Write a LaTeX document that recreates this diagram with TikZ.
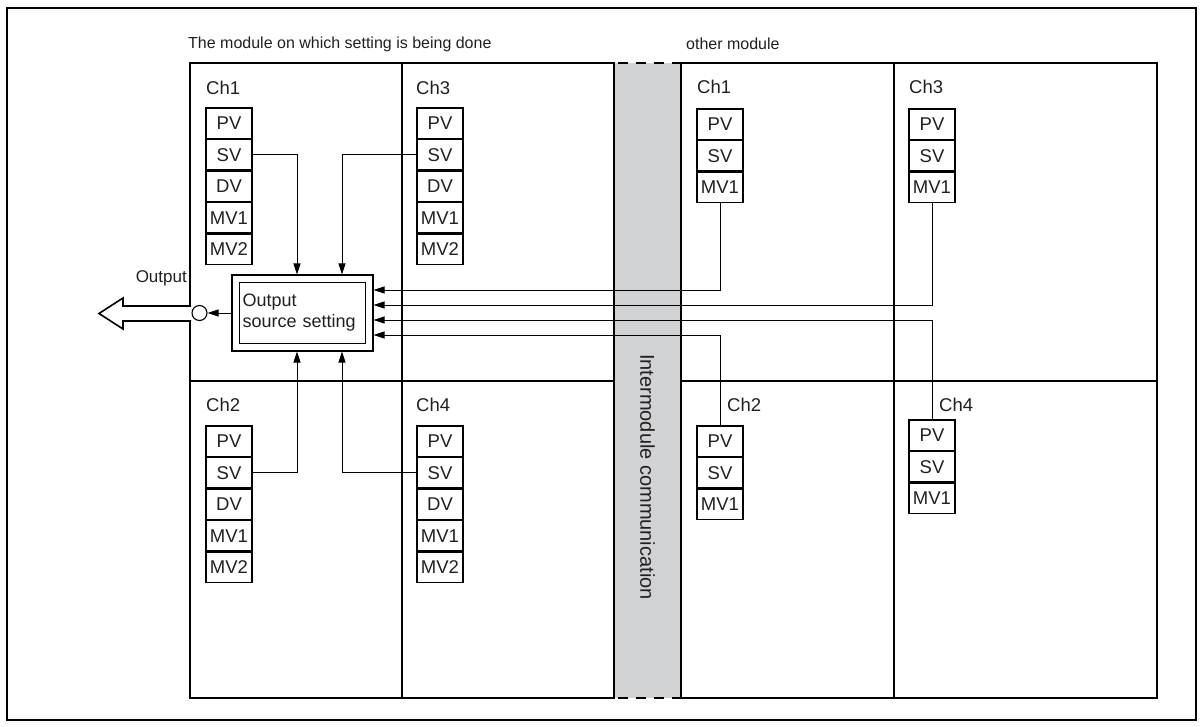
\documentclass[tikz,border=0pt]{standalone}
\usepackage{fontspec}
\setmainfont{Liberation Sans}
\usetikzlibrary{arrows.meta, positioning}
\definecolor{stripgray}{RGB}{209,210,212}
\definecolor{ink}{RGB}{35,31,32}

\begin{document}
\begin{tikzpicture}[
    x=1pt, y=-1pt,
    node distance=0pt,
    every node/.style={text=ink},
    cell/.style={rectangle, draw, line width=1.1pt, minimum width=46pt, minimum height=30.4pt, inner sep=0pt, font=\fontsize{18.5}{20}\selectfont},
    lbl/.style={anchor=west, inner sep=0pt, font=\fontsize{18.5}{20}\selectfont},
    ttl/.style={anchor=west, inner sep=0pt, font=\fontsize{16}{18}\selectfont},
    arrow/.style={-{Triangle[length=11pt, width=7pt]}, line width=0.8pt},
    frame/.style={line width=1.6pt},
    divider/.style={line width=1.1pt}
]
\useasboundingbox (0,0) rectangle (1203,727);

% Frames
\draw[line width=1.4pt] (7,8) rectangle (1196,720);
\fill[stripgray] (614,63) rectangle (681,698);
\draw[line width=1.2pt, dash pattern=on 10pt off 8pt, dash phase=-4pt] (614,63) -- (681,63) (614,698) -- (681,698);
\draw[frame] (190,63) rectangle (614,698);
\draw[frame] (681,63) rectangle (1157,698);
\draw[divider] (402,63) -- (402,698) (190,381) -- (614,381);
\draw[divider] (894,63) -- (894,698) (681,381) -- (1157,381);

% Titles
\node[ttl] (ttl) at (188,44) {The module on which setting is being done};
\node[ttl] (otl) at (686,44) {other module};
\node[rotate=-90, font=\fontsize{20}{22}\selectfont] (imc) at (647.5,477) {Intermodule communication};

% Channel labels
\node[lbl] (lch1) at (206,88) {Ch1};
\node[lbl] (lch3) at (416,88) {Ch3};
\node[lbl] (lch2) at (206,405) {Ch2};
\node[lbl] (lch4) at (416,405) {Ch4};
\node[lbl] (rch1) at (697,87) {Ch1};
\node[lbl] (rch3) at (909,87) {Ch3};
\node[lbl] (rch2) at (727,405) {Ch2};
\node[lbl] (rch4) at (939,405) {Ch4};

% This module, Ch1
\node[cell] (l1pv) at (229,123.2) {PV};
\node[cell, below=of l1pv] (l1sv) {SV};
\node[cell, below=of l1sv] (l1dv) {DV};
\node[cell, below=of l1dv] (l1mv1) {MV1};
\node[cell, below=of l1mv1] (l1mv2) {MV2};
% This module, Ch3
\node[cell] (l3pv) at (440,123.2) {PV};
\node[cell, below=of l3pv] (l3sv) {SV};
\node[cell, below=of l3sv] (l3dv) {DV};
\node[cell, below=of l3dv] (l3mv1) {MV1};
\node[cell, below=of l3mv1] (l3mv2) {MV2};
% This module, Ch2
\node[cell] (l2pv) at (229,441.2) {PV};
\node[cell, below=of l2pv] (l2sv) {SV};
\node[cell, below=of l2sv] (l2dv) {DV};
\node[cell, below=of l2dv] (l2mv1) {MV1};
\node[cell, below=of l2mv1] (l2mv2) {MV2};
% This module, Ch4
\node[cell] (l4pv) at (440,441.2) {PV};
\node[cell, below=of l4pv] (l4sv) {SV};
\node[cell, below=of l4sv] (l4dv) {DV};
\node[cell, below=of l4dv] (l4mv1) {MV1};
\node[cell, below=of l4mv1] (l4mv2) {MV2};

% Other module
\node[cell] (r1pv) at (720,124.2) {PV};
\node[cell, below=of r1pv] (r1sv) {SV};
\node[cell, below=of r1sv] (r1mv1) {MV1};
\node[cell] (r3pv) at (932,124.2) {PV};
\node[cell, below=of r3pv] (r3sv) {SV};
\node[cell, below=of r3sv] (r3mv1) {MV1};
\node[cell] (r2pv) at (720,441.2) {PV};
\node[cell, below=of r2pv] (r2sv) {SV};
\node[cell, below=of r2sv] (r2mv1) {MV1};
\node[cell] (r4pv) at (932,435.2) {PV};
\node[cell, below=of r4pv] (r4sv) {SV};
\node[cell, below=of r4sv] (r4mv1) {MV1};

% Output source setting
\node[draw, line width=1.1pt, minimum width=141pt, minimum height=76pt] (srcout) at (302.5,313) {};
\node[draw, line width=1.1pt, minimum width=126pt, minimum height=61pt, text width=120pt, inner xsep=3pt, inner ysep=4pt, align=left, font=\fontsize{18}{21}\selectfont] (src) at (srcout) {Output\\source setting};
\node[circle, draw, line width=1.1pt, fill=white, minimum size=15pt, inner sep=0pt] (jack) at (199.5,313) {};
\node[anchor=east, inner sep=0pt, font=\fontsize{17}{19}\selectfont] (outlbl) at (187,278) {Output};
\draw[line width=1.6pt, fill=white] (191,306) -- (123,306) -- (123,298) -- (99,313.5) -- (123,329) -- (123,321) -- (191,321);

% Arrows
\draw[arrow] (srcout.west) -- (jack.east);
\draw[arrow] (l1sv.east) -| ([xshift=-5.5pt]srcout.north);
\draw[arrow] (l3sv.west) -| ([xshift=39.5pt]srcout.north);
\draw[arrow] (l2sv.east) -| ([xshift=-5.5pt]srcout.south);
\draw[arrow] (l4sv.west) -| ([xshift=39.5pt]srcout.south);
\draw[arrow] (r1mv1.south) |- ([yshift=23pt]srcout.east);
\draw[arrow] (r3mv1.south) |- ([yshift=8pt]srcout.east);
\draw[arrow] (r4pv.north) |- ([yshift=-7pt]srcout.east);
\draw[arrow] (r2pv.north) |- ([yshift=-22pt]srcout.east);
\end{tikzpicture}
\end{document}
